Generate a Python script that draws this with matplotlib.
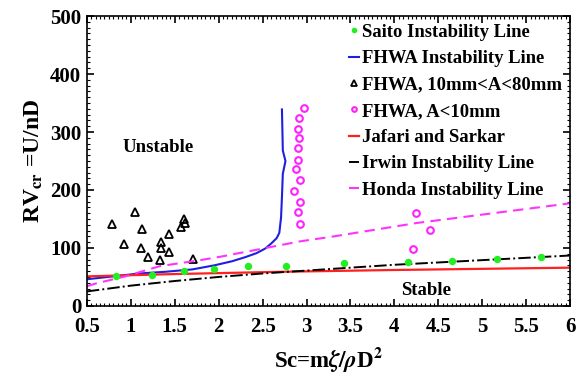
import matplotlib
matplotlib.use("Agg")
import matplotlib.pyplot as plt
from matplotlib.ticker import MultipleLocator

plt.rcParams['font.family'] = ['Liberation Serif', 'DejaVu Serif']
plt.rcParams['font.weight'] = 'bold'
plt.rcParams['mathtext.fontset'] = 'stix'

# Saito instability points
saito_x = [0.83, 1.24, 1.61, 1.95, 2.33, 2.77, 3.43, 4.15, 4.65, 5.17, 5.67]
saito_y = [51, 53, 61, 64, 68.6, 69, 73.7, 76, 77, 81, 84]

# FHWA instability line
fhwa_x = [0.5, 0.8, 1.1, 1.4, 1.7, 1.95, 2.15, 2.3, 2.43, 2.53, 2.6, 2.66, 2.69,
          2.71, 2.72, 2.73, 2.76, 2.73, 2.72]
fhwa_y = [46, 51, 56, 59, 63, 70, 77, 84, 91, 99, 108, 117, 126,
          153, 188, 228, 250, 268, 339]

# FHWA, 10mm<A<80mm
tri_x = [0.79, 0.92, 1.05, 1.13, 1.12, 1.20, 1.33, 1.34, 1.34, 1.43, 1.43, 1.57, 1.61, 1.62, 1.71]
tri_y = [142, 107.5, 162, 133, 100.7, 84.5, 80, 110, 100.7, 124, 93, 136.7, 150, 143.6, 81]

# FHWA, A<10mm
circ_x = [2.97, 2.91, 2.90, 2.91, 2.90, 2.90, 2.88, 2.93, 2.86, 2.93, 2.90, 2.93, 4.25, 4.40, 4.21]
circ_y = [342, 323.6, 305, 289, 273, 251, 236, 218, 198, 180, 162, 142, 160.7, 131.5, 99]

# Jafari and Sarkar
jafari_x = [0.5, 1.5, 2.75, 4.0, 6.0]
jafari_y = [51, 55, 59, 62, 66]

# Irwin instability line
irwin_x = [0.5, 1, 1.5, 2, 2.5, 3, 3.5, 4, 4.5, 5, 5.5, 6]
irwin_y = [25, 35, 43, 50, 56, 61, 66, 71, 75, 79, 83, 87]

# Honda instability line
honda_x = [0.5, 0.61, 0.95, 1.33, 1.79, 2.01, 2.93, 3.27, 4.25, 6.0]
honda_y = [34, 39, 51.5, 68.6, 79, 84.6, 111.5, 119, 143, 177]

xtick_labels = ['0.5', '1', '1.5', '2', '2.5', '3', '3.5', '4', '4.5', '5', '5.5', '6']

fig = plt.figure(figsize=(5.83, 3.74), dpi=100)
ax = fig.add_axes([0.149, 0.182, 0.829, 0.775])

ax.plot(saito_x, saito_y, 'o', color='#22ee22', markersize=4.3, markeredgecolor='#22ee22',
        label='Saito Instability Line', zorder=5)
ax.plot(fhwa_x, fhwa_y, '-', color='#1f1fe0', lw=1.5, label='FHWA Instability Line')
ax.plot(tri_x, tri_y, '^', mfc='none', mec='black', markersize=6, mew=1.3,
        label='FHWA, 10mm<A<80mm')
ax.plot(circ_x, circ_y, 'o', mfc='none', mec='#ff22ff', markersize=4.8, mew=1.5,
        label='FHWA, A<10mm')
ax.plot(jafari_x, jafari_y, '-', color='#ff2020', lw=1.6, label='Jafari and Sarkar')
ax.plot(irwin_x, irwin_y, '-.', color='black', lw=1.4, label='Irwin Instability Line')
ax.plot(honda_x, honda_y, '--', color='#ff33ff', lw=1.5, dashes=(5, 3),
        label='Honda Instability Line')

ax.text(1.31, 273, 'Unstable', fontsize=13.5, fontweight='bold', ha='center', va='center')
ax.text(4.36, 27, 'Stable', fontsize=13.5, fontweight='bold', ha='center', va='center')

ax.set_xlim(0.5, 6)
ax.set_ylim(0, 500)
ax.xaxis.set_minor_locator(MultipleLocator(0.05))
ax.yaxis.set_major_locator(MultipleLocator(100))
ax.yaxis.set_minor_locator(MultipleLocator(10))
ax.set_xticks([float(t) for t in xtick_labels])
ax.set_xticklabels(xtick_labels)
ax.tick_params(which='both', direction='in', top=True, right=True, labelsize=15)
ax.tick_params(axis='x', which='major', pad=8)
ax.tick_params(axis='y', which='major', pad=4)
ax.tick_params(which='major', length=5, width=1.2)
ax.tick_params(which='minor', length=2.5, width=0.8)
for lab in ax.get_xticklabels() + ax.get_yticklabels():
    lab.set_fontweight('bold')
for s in ax.spines.values():
    s.set_linewidth(1.2)

ax.set_xlabel(r'Sc=m$\zeta/\rho$D$^{\mathbf{2}}$', fontsize=16.5, fontweight='bold', labelpad=6)
ax.set_ylabel(r'RV$_{\mathbf{cr}}$ =U/nD', fontsize=17, fontweight='bold', labelpad=4)

ax.legend(loc='upper left', bbox_to_anchor=(0.52, 1.012), frameon=False, fontsize=13.4,
          handlelength=0.5, handletextpad=0.2, labelspacing=0.5, borderpad=0.1,
          markerscale=0.7)

fig.savefig('out.png', dpi=100)
